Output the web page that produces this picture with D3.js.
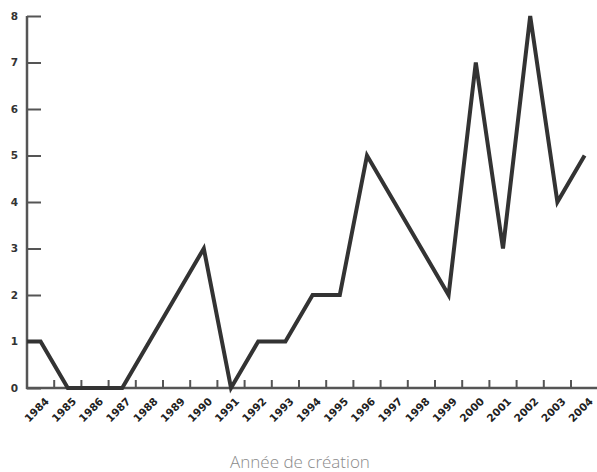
<!DOCTYPE html>
<html>
<head>
<meta charset="utf-8">
<script src="https://cdn.jsdelivr.net/npm/d3@7"></script>
<style>
  body { margin: 0; background: #fff; }
  svg { display: block; }
</style>
</head>
<body>
<svg id="chart"></svg>
<script>
// Width and height of the picture
var width = 597, height = 472;

// Data
var years = [1984, 1985, 1986, 1987, 1988, 1989, 1990, 1991, 1992, 1993, 1994,
             1995, 1996, 1997, 1998, 1999, 2000, 2001, 2002, 2003, 2004];
var counts = [1, 0, 0, 0, 1, 2, 3, 0, 1, 1, 2, 2, 5, 4, 3, 2, 7, 3, 8, 4, 5];
var yTicks = [0, 1, 2, 3, 4, 5, 6, 7, 8];
var xTitle = "Année de création";

var svg = d3.select("#chart")
  .attr("width", width)
  .attr("height", height);

var marginLeft = 27, axisY = 388, plotTop = 16;

// one band per year, ticks go on the band edges
var x = d3.scaleBand()
  .domain(years)
  .range([marginLeft, marginLeft + 27.2 * years.length])
  .padding(0);

var y = d3.scaleLinear()
  .domain([0, 8])
  .range([axisY, plotTop]);

var axisColor = "#555";

// y axis, ticks pointing inward
var yAxis = svg.append("g")
  .attr("transform", "translate(" + marginLeft + ",0)")
  .call(d3.axisLeft(y).tickValues(yTicks).tickSize(-14).tickPadding(9).tickFormat(d3.format("d")));
yAxis.select(".domain").remove();
yAxis.selectAll(".tick line").attr("stroke", axisColor).attr("stroke-width", 2);
yAxis.selectAll(".tick text")
  .attr("fill", "#333")
  .style("font-family", "DejaVu Sans")
  .style("font-size", "10.5px")
  .style("font-weight", "bold");

svg.append("line")
  .attr("x1", marginLeft).attr("x2", marginLeft)
  .attr("y1", plotTop).attr("y2", axisY + 1)
  .attr("stroke", axisColor)
  .attr("stroke-width", 2.5);

// x axis labels (rotated) without the default ticks
var xAxis = svg.append("g")
  .attr("transform", "translate(0," + axisY + ")")
  .call(d3.axisBottom(x).tickSize(0).tickSizeOuter(0).tickPadding(0));
xAxis.select(".domain").remove();
xAxis.selectAll(".tick text")
  .attr("fill", "#222")
  .attr("text-anchor", "end")
  .attr("dy", 0)
  .attr("transform", "translate(9,14) rotate(-45)")
  .style("font-family", "DejaVu Sans")
  .style("font-size", "10.5px")
  .style("font-weight", "bold");

// tick marks on the band edges
svg.append("g")
  .selectAll("line")
  .data(years.slice(1))
  .enter().append("line")
  .attr("x1", function(d) { return x(d); })
  .attr("x2", function(d) { return x(d); })
  .attr("y1", axisY)
  .attr("y2", axisY - 8)
  .attr("stroke", axisColor)
  .attr("stroke-width", 2);

svg.append("line")
  .attr("x1", marginLeft - 1).attr("x2", width)
  .attr("y1", axisY).attr("y2", axisY)
  .attr("stroke", axisColor)
  .attr("stroke-width", 2.5);

// the series, starting flat from the y axis
var pts = [[x(years[0]), y(counts[0])]];
years.forEach(function(d, i) {
  pts.push([x(d) + x.bandwidth() / 2, y(counts[i])]);
});

svg.append("path")
  .datum(pts)
  .attr("fill", "none")
  .attr("stroke", "#333")
  .attr("stroke-width", 4)
  .attr("stroke-linejoin", "miter")
  .attr("d", d3.line());

// axis title
svg.append("text")
  .attr("x", 300)
  .attr("y", 468)
  .attr("text-anchor", "middle")
  .attr("fill", "#8a8a8a")
  .style("font-family", "Open Sans")
  .style("font-size", "17px")
  .style("font-weight", "300")
  .text(xTitle);
</script>
</body>
</html>
